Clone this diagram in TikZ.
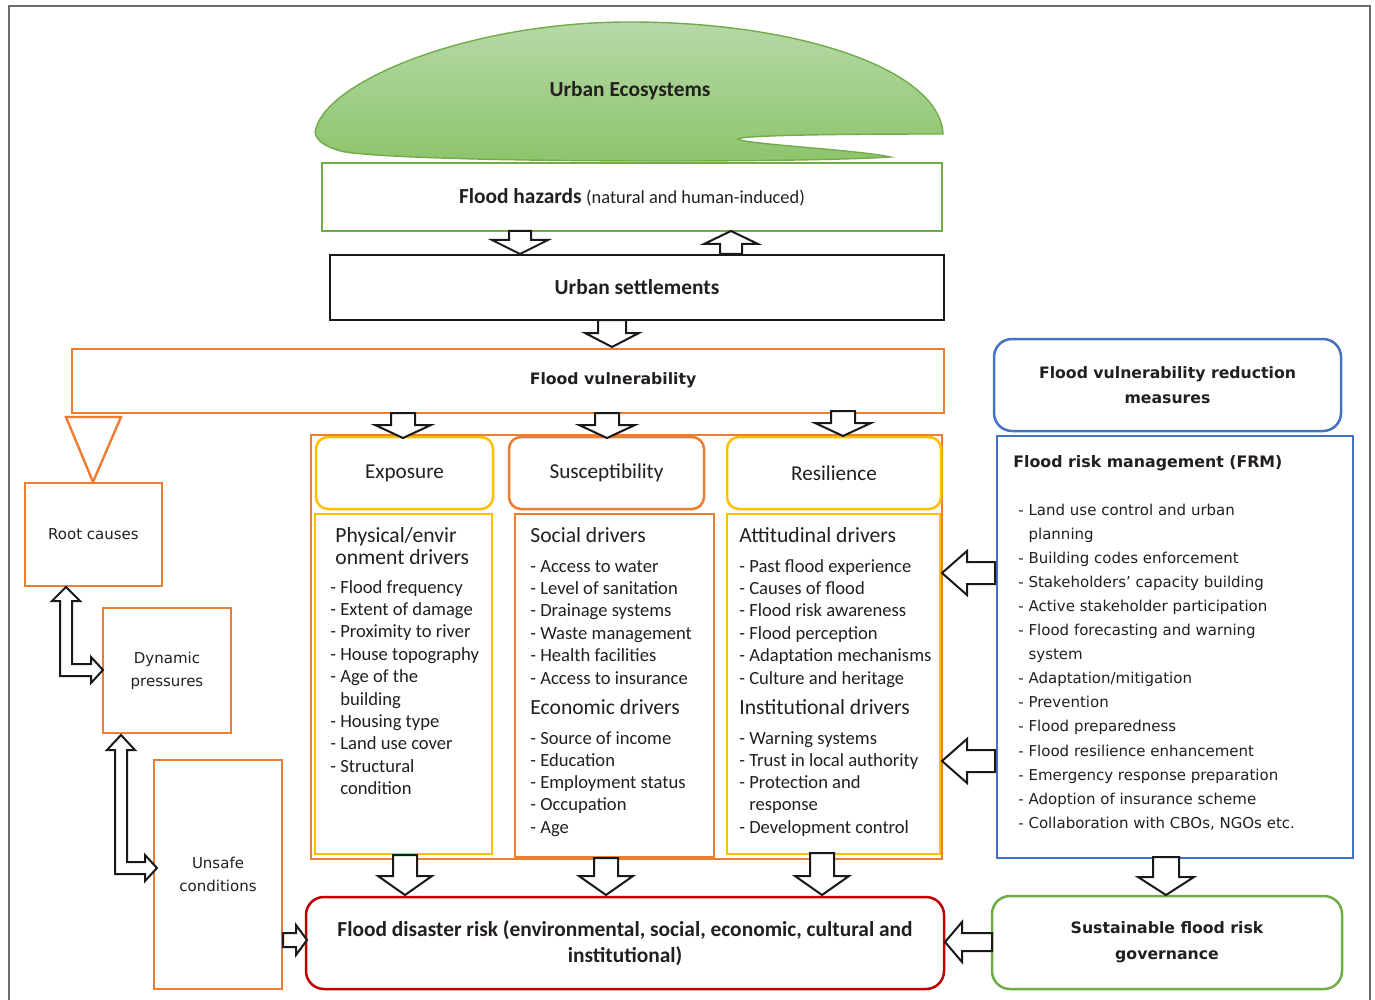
\documentclass[tikz,border=0pt]{standalone}
\usepackage{fontspec}
\setmainfont{Carlito}
\newfontfamily\vfont{DejaVu Sans}
\definecolor{cgreen}{HTML}{70AD47}
\definecolor{corange}{HTML}{ED7D31}
\definecolor{cyellow}{HTML}{FFC000}
\definecolor{cblue}{HTML}{4472C4}
\definecolor{cred}{HTML}{C00000}
\definecolor{ctext}{HTML}{231F20}
\definecolor{cframe}{HTML}{6D6D6D}
\definecolor{cloudtop}{HTML}{B6D9A7}
\definecolor{cloudbot}{HTML}{8DC46C}
\newcommand\fT{\fontsize{10.7}{13}\selectfont\bfseries}
\newcommand\fE{\fontsize{10.6}{13}\selectfont}
\newcommand\fH{\fontsize{10.8}{11}\selectfont}
\newcommand\fL{\fontsize{9.3}{11.2}\selectfont}
\newcommand\fV{\vfont\fontsize{7.5}{11.5}\selectfont}
\newcommand\fVL{\vfont\fontsize{7.5}{12}\selectfont}
\newcommand\fVB{\vfont\bfseries\fontsize{7.85}{12.8}\selectfont}
\newcommand\fVT{\vfont\bfseries\fontsize{7.9}{12.5}\selectfont}
\newcommand\bx[7]{%
  \pgfmathsetmacro\bw{(#5-#3)*0.5}\pgfmathsetmacro\bh{(#6-#4)*0.5}%
  \node[#2, minimum width=\bw pt, minimum height=\bh pt, inner sep=0pt, outer sep=0pt] (#1) at ({(#3+#5)/2},{(#4+#6)/2}) {#7};}
\newcommand\adown[6]{\draw[blk] ({#1-#4},#2) -- ({#1+#4},#2) -- ({#1+#4},#6) -- ({#1+#5},#6) -- (#1,#3) -- ({#1-#5},#6) -- ({#1-#4},#6) -- cycle;}
\newcommand\aleft[6]{\draw[blk] (#2,{#1-#4}) -- (#2,{#1+#4}) -- (#6,{#1+#4}) -- (#6,{#1+#5}) -- (#3,#1) -- (#6,{#1-#5}) -- (#6,{#1-#4}) -- cycle;}
\newcommand\lst[5]{\foreach \t [count=\i from 0] in {#5} \node[txt, font=#1, anchor=base west] at (#2, {#3+\i*#4}) {\t};}
\begin{document}
\begin{tikzpicture}[x=0.5pt,y=-0.5pt,
  every node/.style={text=ctext},
  txt/.style={inner sep=0pt},
  box/.style={draw, line width=1.25pt},
  rbox/.style={draw, line width=1.25pt, rounded corners=6pt},
  rboxL/.style={draw, line width=1.25pt, rounded corners=9pt},
  blk/.style={draw=black!90, line width=1pt, fill=white, line join=miter}]
\useasboundingbox (0,0) rectangle (1375,1000);
\fill[white] (0,0) rectangle (1375,1000);
% frame
\draw[cframe, line width=1pt] (8.5,1000) -- (8.5,6.5) -- (1369.5,6.5) -- (1369.5,1000);
% cloud
\draw[draw=cgreen, line width=0.7pt, top color=cloudtop, bottom color=cloudbot]
  (316,128) .. controls (330,80) and (470,22) .. (630,22)
  .. controls (800,22) and (940,70) .. (943,134)
  .. controls (850,134) and (742,135) .. (738,139)
  .. controls (742,144) and (860,150) .. (890,157)
  .. controls (800,163) and (420,163) .. (345,152)
  .. controls (322,147) and (312,137) .. (316,128) -- cycle;
\node[font=\fT] (eco) at (630,91) {Urban Ecosystems};
% main boxes
\bx{haz}{box,draw=cgreen}{322}{163}{942}{231}{{\fT Flood hazards} {\fontsize{9.2}{11}\selectfont(natural and human-induced)}}
\bx{set}{box,draw=black!90,font=\fT}{330}{255}{944}{320}{Urban settlements}
\bx{fv}{box,draw=corange}{72}{349}{944}{413}{}
\node[font=\fVB] (fvt) at (613,380) {Flood vulnerability};
\draw[corange, line width=1.2pt] (66,417) -- (121,417) -- (93,482) -- cycle;
\bx{root}{box,draw=corange,font=\fV}{25}{483}{162}{586}{Root causes}
\bx{dyn}{box,draw=corange,align=center,font=\fV}{103}{608}{231}{733}{Dynamic\\pressures}
\bx{uns}{box,draw=corange,align=center,font=\fV}{154}{760}{282}{989}{Unsafe\\conditions}
\bx{cont}{box,draw=corange,line width=0.8pt}{311}{435}{942}{859}{}
\bx{exp}{rbox,draw=cyellow,font=\fE}{316}{437}{493}{509}{Exposure}
\bx{sus}{rbox,draw=corange,font=\fE}{509}{437}{704}{509}{Susceptibility}
\bx{res}{rbox,draw=cyellow,font=\fE}{727}{437}{941}{509}{Resilience}
\bx{expd}{box,draw=cyellow}{315}{514}{492}{854}{}
\bx{susd}{box,draw=corange}{515}{514}{714}{857}{}
\bx{resd}{box,draw=cyellow}{727}{514}{940}{854}{}
\bx{fdr}{rboxL,draw=cred,align=center,font=\fT}{306}{897}{944}{989}{Flood disaster risk (environmental, social, economic, cultural and\\institutional)}
\bx{fvr}{rboxL,draw=cblue,align=center,font=\fVB}{994}{339}{1341}{431}{Flood vulnerability reduction\\measures}
\bx{frm}{box,draw=cblue}{997}{436}{1353}{858}{}
\bx{sfr}{rboxL,draw=cgreen,align=center,font=\fVB}{992}{896}{1342}{989}{Sustainable flood risk\\governance}
% column texts
\lst{\fH}{335}{542}{22}{Physical/envir,onment drivers}
\lst{\fL}{330}{593}{22.4}{- Flood frequency,- Extent of damage,- Proximity to river,- House topography,- Age of the,\phantom{- }building,- Housing type,- Land use cover,- Structural,\phantom{- }condition}
\lst{\fH}{530}{542}{22}{Social drivers}
\lst{\fL}{530}{572}{22.4}{- Access to water,- Level of sanitation,- Drainage systems,- Waste management,- Health facilities,- Access to insurance}
\lst{\fH}{530}{714}{22}{Economic drivers}
\lst{\fL}{530}{744}{22.3}{- Source of income,- Education,- Employment status,- Occupation,- Age}
\lst{\fH}{739}{542}{22}{Attitudinal drivers}
\lst{\fL}{739}{572}{22.4}{- Past flood experience,- Causes of flood,- Flood risk awareness,- Flood perception,- Adaptation mechanisms,- Culture and heritage}
\lst{\fH}{739}{714}{22}{Institutional drivers}
\lst{\fL}{739}{744}{22.3}{- Warning systems,- Trust in local authority,- Protection and,\phantom{- }response,- Development control}
% FRM
\node[txt, font=\fVT, anchor=base west] (frmt) at (1013,467) {Flood risk management (FRM)};
\lst{\fVL}{1018}{515}{24.1}{- Land use control and urban,\phantom{- }planning,- Building codes enforcement,- Stakeholders’ capacity building,- Active stakeholder participation,- Flood forecasting and warning,\phantom{- }system,- Adaptation/mitigation,- Prevention,- Flood preparedness,- Flood resilience enhancement,- Emergency response preparation,- Adoption of insurance scheme,{- Collaboration with CBOs, NGOs etc.}}
% block arrows
\adown{520}{231}{254}{11}{28}{240}
\adown{731}{254}{231}{11}{27}{244}
\adown{612}{320}{347}{14}{27}{333}
\adown{403}{413}{438}{12}{28}{425}
\adown{607}{413}{438}{12}{28}{425}
\adown{843}{411}{436}{12}{28}{423}
\adown{405}{855}{895}{12}{27}{876}
\adown{606}{858}{895}{12}{27}{876}
\adown{822}{853}{895}{12}{27}{876}
\adown{1166}{857}{895}{13}{28}{877}
\aleft{573}{995}{942}{11}{22}{967}
\aleft{761}{995}{942}{11}{22}{967}
\aleft{942}{992}{945}{9}{20}{962}
\aleft{940}{283}{307}{7}{15}{296}
% L-shaped double arrows
\draw[blk] (66,587) -- (80,601) -- (72,601) -- (72,664) -- (91,664) -- (91,657) -- (103,670) -- (91,683) -- (91,676) -- (60,676) -- (60,601) -- (52,601) -- cycle;
\draw[blk] (121,735) -- (135,750) -- (127,750) -- (127,862) -- (145,862) -- (145,855) -- (157,868) -- (145,881) -- (145,874) -- (115,874) -- (115,750) -- (107,750) -- cycle;
\end{tikzpicture}
\end{document}
